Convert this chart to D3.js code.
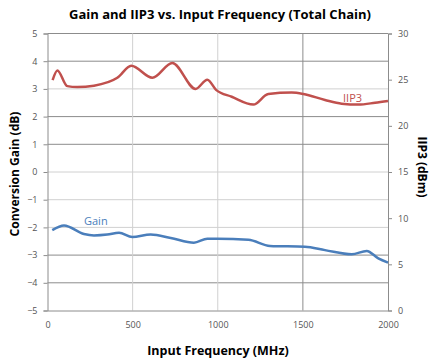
<!DOCTYPE html>
<html><head><meta charset="utf-8">
<script src="https://cdn.jsdelivr.net/npm/d3@7"></script>
<style>
body{margin:0;background:#fff;}
svg{display:block;}
text{font-family:"Open Sans","Liberation Sans",sans-serif;}
</style></head>
<body><div id="chart"></div>
<script>
// ---- data ----
const freqTicks = [0, 500, 1000, 1500, 2000];
const gainTicks = [-5, -4, -3, -2, -1, 0, 1, 2, 3, 4, 5];
const iip3Ticks = [0, 5, 10, 15, 20, 25, 30];

const iip3Freq = [30, 58, 116, 175, 273, 410, 492, 616, 733, 870, 939, 990, 1082, 1209, 1297, 1434, 1503, 1630, 1728, 1826, 1924, 2000];
const iip3Vals = [24.95, 26.0, 24.3, 24.2, 24.35, 25.2, 26.5, 25.2, 26.8, 24.0, 25.0, 23.9, 23.15, 22.3, 23.45, 23.6, 23.45, 22.8, 22.4, 22.3, 22.5, 22.7];

const gainFreq = [28, 97, 214, 273, 351, 420, 498, 606, 724, 860, 939, 1000, 1180, 1307, 1512, 1630, 1787, 1875, 1943, 2000];
const gainVals = [-2.10, -1.93, -2.24, -2.29, -2.26, -2.19, -2.35, -2.26, -2.38, -2.55, -2.41, -2.41, -2.45, -2.67, -2.70, -2.82, -2.97, -2.85, -3.12, -3.27];

// ---- layout ----
const W = 441, H = 364;
const svg = d3.select("#chart").append("svg").attr("width", W).attr("height", H);

const x = d3.scaleLinear().domain([0, 2000]).range([47.5, 388]);
const yL = d3.scaleLinear().domain([-5, 5]).range([310.5, 33.5]);
const yR = d3.scaleLinear().domain([0, 30]).range([310.5, 33.5]);

const grid = "#8c8c8c";
const lightGrid = "#d0d0d0";

// horizontal gridlines
svg.append("g").selectAll("line").data(gainTicks.filter(d => d > -5)).join("line")
  .attr("x1", x(0)).attr("x2", x(2000))
  .attr("y1", d => yL(d)).attr("y2", d => yL(d))
  .attr("stroke", d => [3, 0, -1, -2].includes(d) ? lightGrid : grid).attr("stroke-width", 1);

// vertical gridlines
svg.append("g").selectAll("line").data(freqTicks.filter(d => d > 0 && d < 2000)).join("line")
  .attr("x1", d => x(d)).attr("x2", d => x(d))
  .attr("y1", yL(5)).attr("y2", yL(-5))
  .attr("stroke", d => d === 1500 ? grid : lightGrid).attr("stroke-width", 1);

// axes
const tickFont = g => g.selectAll("text").attr("font-size", 9).attr("fill", "#555")
  .attr("font-family", "'Open Sans', sans-serif");
const axL = svg.append("g").attr("transform", `translate(${x(0)},0)`)
  .call(d3.axisLeft(yL).tickValues(gainTicks).tickSize(4).tickPadding(6).tickFormat(d3.format("d")));
const axR = svg.append("g").attr("transform", `translate(${x(2000)},0)`)
  .call(d3.axisRight(yR).tickValues(iip3Ticks).tickSize(4).tickPadding(6).tickFormat(d3.format("d")));
const axB = svg.append("g").attr("transform", `translate(0,${yL(-5)})`)
  .call(d3.axisBottom(x).tickValues(freqTicks).tickSize(0).tickPadding(11).tickFormat(d3.format("d")));
[axL, axR, axB].forEach(a => {
  a.select(".domain").attr("stroke", grid);
  a.selectAll(".tick line").attr("stroke", grid);
  tickFont(a);
});

// lines
const iip3Data = iip3Freq.map((f, i) => [f, iip3Vals[i]]);
const gainData = gainFreq.map((f, i) => [f, gainVals[i]]);

svg.append("path").datum(iip3Data)
  .attr("d", d3.line().x(d => x(d[0])).y(d => yR(d[1])).curve(d3.curveMonotoneX))
  .attr("fill", "none").attr("stroke", "#c0504d").attr("stroke-width", 2.5).attr("stroke-linejoin", "round");
svg.append("path").datum(gainData)
  .attr("d", d3.line().x(d => x(d[0])).y(d => yL(d[1])).curve(d3.curveMonotoneX))
  .attr("fill", "none").attr("stroke", "#4a7ebb").attr("stroke-width", 2.5).attr("stroke-linejoin", "round");

// series labels
svg.append("text").attr("x", 343).attr("y", 102).attr("font-size", 11).attr("fill", "#c0504d")
  .attr("font-family", "'Liberation Sans', Arial, sans-serif").text("IIP3");
svg.append("text").attr("x", 84).attr("y", 225).attr("font-size", 11).attr("fill", "#4a7ebb")
  .attr("font-family", "'Liberation Sans', Arial, sans-serif").text("Gain");

// titles
svg.append("text").attr("x", 220).attr("y", 19).attr("text-anchor", "middle")
  .attr("font-size", 13).attr("font-weight", "bold").attr("fill", "#000").text("Gain and IIP3 vs. Input Frequency (Total Chain)");
svg.append("text").attr("x", 218).attr("y", 355).attr("text-anchor", "middle")
  .attr("font-size", 12.5).attr("font-weight", "bold").attr("fill", "#000").text("Input Frequency (MHz)");
svg.append("text").attr("transform", `translate(19,${yL(0) + 2}) rotate(-90)`).attr("text-anchor", "middle")
  .attr("font-size", 12).attr("font-weight", "bold").attr("fill", "#000").text("Conversion Gain (dB)");
svg.append("text").attr("transform", `translate(418,${yL(0) - 5}) rotate(90)`).attr("text-anchor", "middle")
  .attr("font-size", 12).attr("font-weight", "bold").attr("fill", "#000").text("IIP3 (dBm)");
</script>
</body></html>
